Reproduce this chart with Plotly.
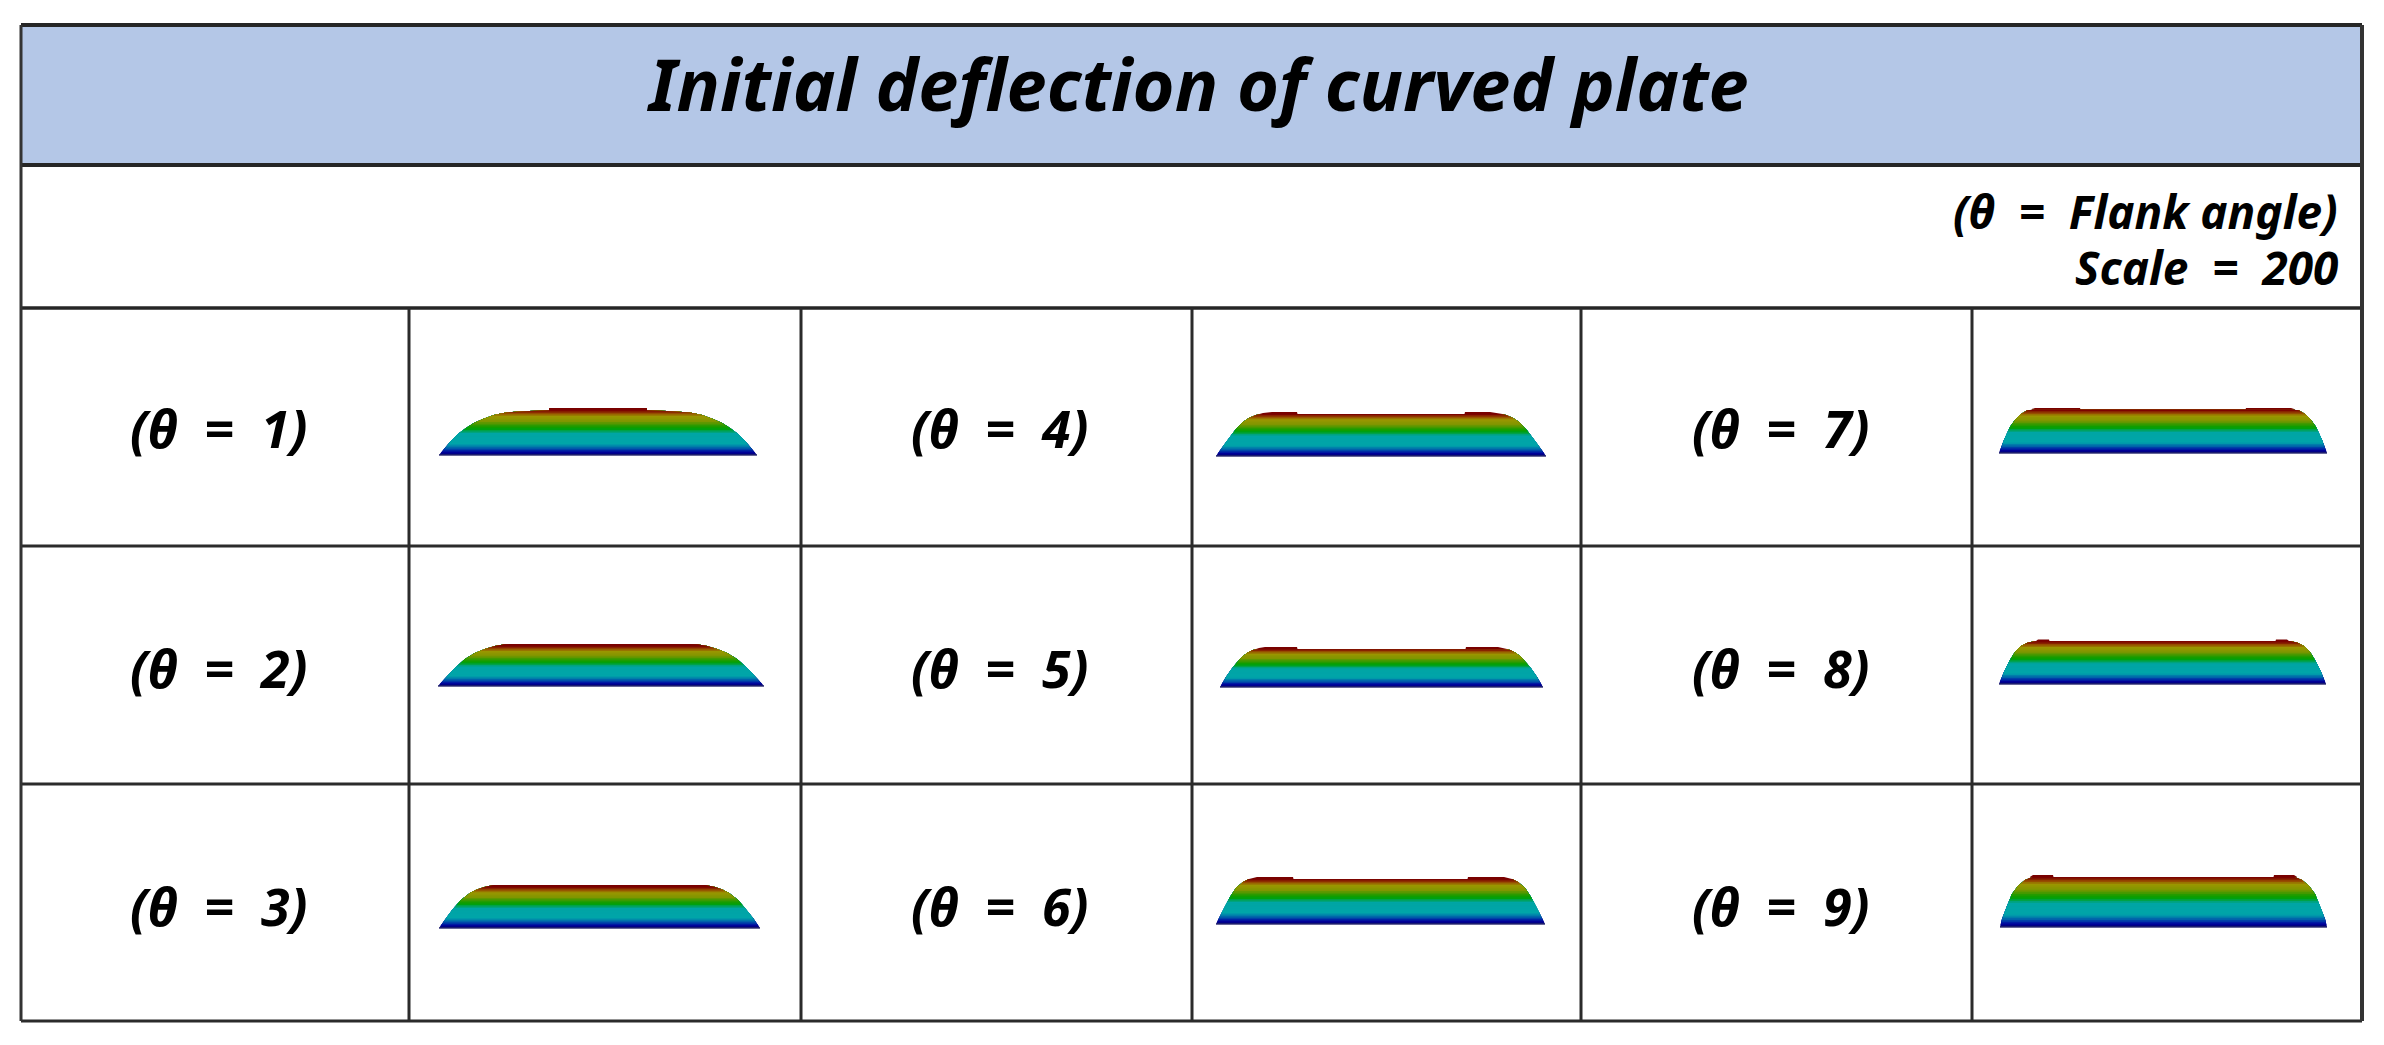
import numpy as np
import plotly.graph_objects as go

# table text
title_text = "<b><i>Initial deflection of curved plate</i></b>"
note_lines = ["(θ  =  Flank angle)", "Scale  =  200"]
angle_labels = ["(θ  =  1)", "(θ  =  2)", "(θ  =  3)", "(θ  =  4)", "(θ  =  5)",
                "(θ  =  6)", "(θ  =  7)", "(θ  =  8)", "(θ  =  9)"]

# table grid
col_edges = [21, 409, 801, 1192, 1581, 1972, 2362]
row_edges = [308, 546, 784, 1021]
header_edges = [25, 165, 308]

# plate extents, theta 1..9
plate_left = [439, 438, 439, 1216, 1220, 1216, 1999, 1999, 2000]
plate_right = [757, 764, 760, 1546, 1543, 1545, 2327, 2326, 2327]
plate_base = [455, 686, 928, 456, 687, 924, 453, 684, 927]

# left half of each plate outline: inset from the edge, rise above the base
inset1 = [0, 11, 19, 27, 35, 44, 55, 67, 90, 110, 110.5]
rise1 = [0, 13, 21, 27, 32, 36, 40, 42.5, 44, 44.5, 47]
inset2 = [0, 9, 18, 27, 37, 47, 57, 66, 75]
rise2 = [0, 10, 19, 27, 33, 37, 40, 41.5, 42]
inset3 = [0, 7, 14, 22, 31, 38, 45, 50, 56]
rise3 = [0, 10, 19, 28, 35, 38.5, 41, 42, 43]
inset4 = [0, 7, 14, 20, 27, 33, 40, 47, 56, 81, 81.5]
rise4 = [0, 10, 19, 27, 34, 38, 41, 43, 44, 44, 42]
inset5 = [0, 6, 13, 18, 23, 28, 33, 39, 45, 77, 77.5]
rise5 = [0, 10, 20, 26, 31, 34.5, 37, 39, 40, 40, 38]
inset6 = [0, 7, 14, 20, 27, 33, 41, 77, 77.5]
rise6 = [0, 14, 27, 36, 42, 45, 47, 47, 45]
inset7 = [0, 5, 11, 16, 22, 28, 36, 81, 81.5]
rise7 = [0, 13, 26, 33, 39, 42.5, 45, 45, 43.5]
inset8 = [0, 5, 11, 16, 22, 29, 37, 39, 50, 50.5]
rise8 = [0, 12, 24, 32, 38, 41.5, 43, 44.5, 44.5, 43]
inset9 = [0, 2, 7, 12, 18, 25, 33, 53, 53.5]
rise9 = [0, 8, 21, 33, 41, 47, 52, 52, 50]

plate_insets = [inset1, inset2, inset3, inset4, inset5, inset6, inset7, inset8, inset9]
plate_rises = [rise1, rise2, rise3, rise4, rise5, rise6, rise7, rise8, rise9]

# contour colours, fraction of the plate height -> rgb
stop_pos = [0, 0.06, 0.13, 0.23, 0.46, 0.56, 0.62, 0.72, 0.82, 0.89, 0.94, 1]
stop_r = [0, 0, 0, 0, 0, 0, 40, 130, 155, 150, 125, 120]
stop_g = [0, 0, 80, 165, 165, 160, 155, 150, 150, 70, 5, 0]
stop_b = [110, 160, 170, 170, 165, 0, 0, 0, 0, 0, 0, 0]
n_bands = 30

fig = go.Figure()

# each band is the part of the outline above its level, painted bottom to top
for i in range(9):
    inset = np.array(plate_insets[i], dtype=float)
    rise = np.array(plate_rises[i], dtype=float)
    left, right, base = plate_left[i], plate_right[i], plate_base[i]
    main = rise[-1]
    peak = int(np.argmax(rise))
    rise_up, inset_up = rise[:peak + 1], inset[:peak + 1]
    for b in range(n_bands):
        frac = b / n_bands
        level = frac * rise.max()
        keep = rise_up > level
        if level < main:
            # whole width, the bumps are clipped to the main top here
            ins = np.concatenate([[np.interp(level, rise_up, inset_up)], inset_up[keep]])
            ris = np.concatenate([[level], np.minimum(rise_up[keep], main)])
            xs = np.concatenate([left + ins, right - ins[::-1]])
            ys = base - np.concatenate([ris, ris[::-1]])
        else:
            # above the main top only the two raised pieces are left, they
            # reach down to the main top so nothing shows between them
            ins = np.concatenate([[np.interp(main, rise_up, inset_up)], inset_up[keep],
                                  inset[peak + 1:-1], inset[-1:]])
            ris = np.concatenate([[main], rise_up[keep], rise[peak + 1:-1], [main]])
            xs = np.concatenate([left + ins, [None], right - ins[::-1]])
            ys = np.concatenate([base - ris, [None], base - ris[::-1]])
        mid = frac + 0.5 / n_bands
        color = "rgb(%d,%d,%d)" % (np.interp(mid, stop_pos, stop_r),
                                   np.interp(mid, stop_pos, stop_g),
                                   np.interp(mid, stop_pos, stop_b))
        fig.add_trace(go.Scatter(x=xs, y=ys, mode="lines", fill="toself",
                                 fillcolor=color, line=dict(width=0),
                                 hoverinfo="skip", showlegend=False))
    # soft dark edge under the base
    fig.add_trace(go.Scatter(x=[left, right], y=[base, base], mode="lines",
                             line=dict(color="rgba(40,40,110,0.7)", width=2),
                             hoverinfo="skip", showlegend=False))

# header fill and table lines
fig.add_shape(type="rect", x0=col_edges[0], x1=col_edges[-1], y0=header_edges[0],
              y1=header_edges[1], fillcolor="#B4C7E7", line_width=0, layer="below")
for y, w in zip(header_edges, [4, 4, 3.5]):
    fig.add_shape(type="line", x0=col_edges[0], x1=col_edges[-1], y0=y, y1=y,
                  line=dict(color="#262626", width=w))
for y in row_edges[1:]:
    fig.add_shape(type="line", x0=col_edges[0], x1=col_edges[-1], y0=y, y1=y,
                  line=dict(color="#2b2b2b", width=3))
for x in col_edges[1:-1]:
    fig.add_shape(type="line", x0=x, x1=x, y0=row_edges[0], y1=row_edges[-1],
                  line=dict(color="#2b2b2b", width=3))
fig.add_shape(type="line", x0=col_edges[0], x1=col_edges[0], y0=header_edges[0],
              y1=row_edges[-1], line=dict(color="#333333", width=3))
fig.add_shape(type="line", x0=col_edges[-1], x1=col_edges[-1], y0=header_edges[0],
              y1=row_edges[-1], line=dict(color="#333333", width=4))

font_name = "Noto Sans"
fig.add_annotation(x=1197, y=83, text=title_text, showarrow=False,
                   font=dict(family=font_name, size=72, color="black"))
fig.add_annotation(x=2340, y=211, text="<i><b>" + note_lines[0] + "</b></i>", showarrow=False,
                   xanchor="right", font=dict(family=font_name, size=46, color="black"))
fig.add_annotation(x=2340, y=267, text="<i><b>" + note_lines[1] + "</b></i>", showarrow=False,
                   xanchor="right", font=dict(family=font_name, size=46, color="black"))

label_x = [218, 999, 1780]
label_y = [427, 667, 905]
for i, label in enumerate(angle_labels):
    fig.add_annotation(x=label_x[i // 3], y=label_y[i % 3], text="<i><b>" + label + "</b></i>",
                       showarrow=False, font=dict(family=font_name, size=52, color="black"))

# the page body keeps an 8 px margin, so the axes start 8 units in
fig.update_layout(width=2368, height=1029, margin=dict(l=0, r=0, t=0, b=0),
                  paper_bgcolor="white", plot_bgcolor="white", showlegend=False)
fig.update_xaxes(range=[8, 2376], visible=False)
fig.update_yaxes(range=[1037, 8], visible=False)

fig.write_html("out.html")
